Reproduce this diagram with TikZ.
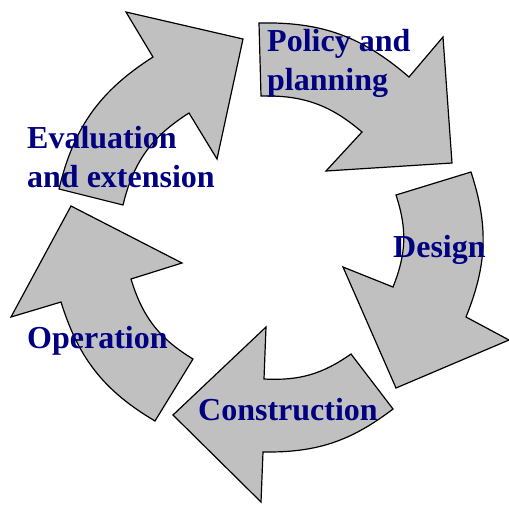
\documentclass[tikz,border=0pt]{standalone}
\usepackage{fontspec}
\setmainfont{Liberation Serif}
\definecolor{silver}{RGB}{192,192,192}
\definecolor{navytext}{RGB}{0,0,128}

\begin{document}
\begin{tikzpicture}[x=1pt,y=-1pt,
  cyclearrow/.style={draw=black,fill=silver,line width=1.2pt,line join=miter},
  steplabel/.style={anchor=base west,inner sep=0pt,align=left,text=navytext,
    font=\fontsize{32}{39}\selectfont\bfseries}]

\useasboundingbox (0,0) rectangle (509,504);

\draw[cyclearrow] (259,23) to[bend left=21] (409,77) -- (443,37) -- (452,163)
  -- (326,171) -- (362,132) to[bend right=21] (261,96) -- cycle;
\draw[cyclearrow] (471,172) to[bend left=20] (466,317) -- (509,340) -- (396,388)
  -- (343,267) -- (393,287) to[bend right=20] (396,195) -- cycle;
\draw[cyclearrow] (393,409) to[bend left=19] (263,452) -- (261,502) -- (173,415)
  -- (266,327) -- (264,379) to[bend right=19] (351,354) -- cycle;
\draw[cyclearrow] (155,421) to[bend left=21] (61,302) -- (11,317) -- (71,206)
  -- (182,263) -- (131,279) to[bend right=21] (193,359) -- cycle;
\draw[cyclearrow] (59,189) to[bend left=22] (153,57) -- (126,12) -- (243,39)
  -- (217,159) -- (189,113) to[bend right=22] (123,205) -- cycle;

% base of a two-line label is the last line
\node[steplabel] (policy) at (267,90) {Policy and\\planning};
\node[steplabel] (design) at (393,257) {Design};
\node[steplabel] (construction) at (198,420) {Construction};
\node[steplabel] (operation) at (27,348) {Operation};
\node[steplabel] (evaluation) at (27,187) {Evaluation\\and extension};

\end{tikzpicture}
\end{document}
